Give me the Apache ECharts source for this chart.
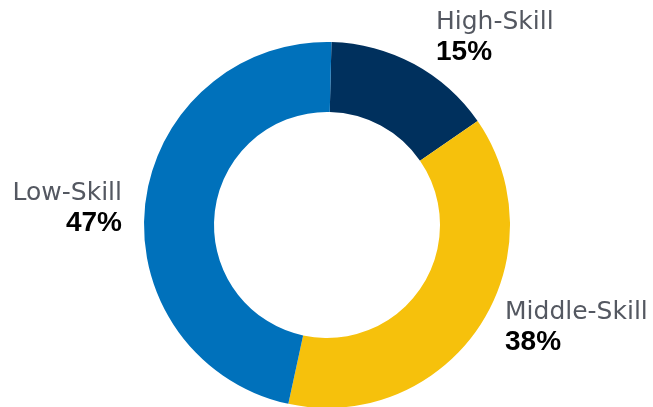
<!DOCTYPE html>
<html><head><meta charset="utf-8">
<script src="https://cdn.jsdelivr.net/npm/echarts@6/dist/echarts.min.js"></script>
<style>html,body{margin:0;padding:0;background:#fff}#c{width:653px;height:407px}</style>
</head><body><div id="c"></div>
<script>
const categories = ['High-Skill', 'Middle-Skill', 'Low-Skill'];
const values = [15, 38, 47];
const colors = ['#00305d', '#f6c10c', '#0071bb'];

// label anchor placement (layout only)
const labelPos = [
  {x: 436, y: 22, align: 'left'},
  {x: 505, y: 312, align: 'left'},
  {x: 122, y: 193, align: 'right'}
];

const chart = echarts.init(document.getElementById('c'), null, {renderer: 'canvas'});
const graphics = [];
categories.forEach((c, i) => {
  const p = labelPos[i];
  graphics.push({type: 'text', x: p.x, y: p.y, style: {text: c, fill: '#545861', font: '25px "DejaVu Sans"', align: p.align, verticalAlign: 'middle'}});
  graphics.push({type: 'text', x: p.x, y: p.y + 30, style: {text: values[i] + '%', fill: '#000', font: 'bold 28px "Liberation Sans"', align: p.align, verticalAlign: 'middle'}});
});
chart.setOption({
  animation: false,
  series: [{
    type: 'pie',
    center: [327, 225],
    radius: [113, 183],
    startAngle: 88.6,
    clockwise: true,
    label: {show: false},
    labelLine: {show: false},
    emphasis: {disabled: true},
    data: categories.map((c, i) => ({name: c, value: values[i], itemStyle: {color: colors[i]}}))
  }],
  graphic: graphics
});
</script></body></html>
